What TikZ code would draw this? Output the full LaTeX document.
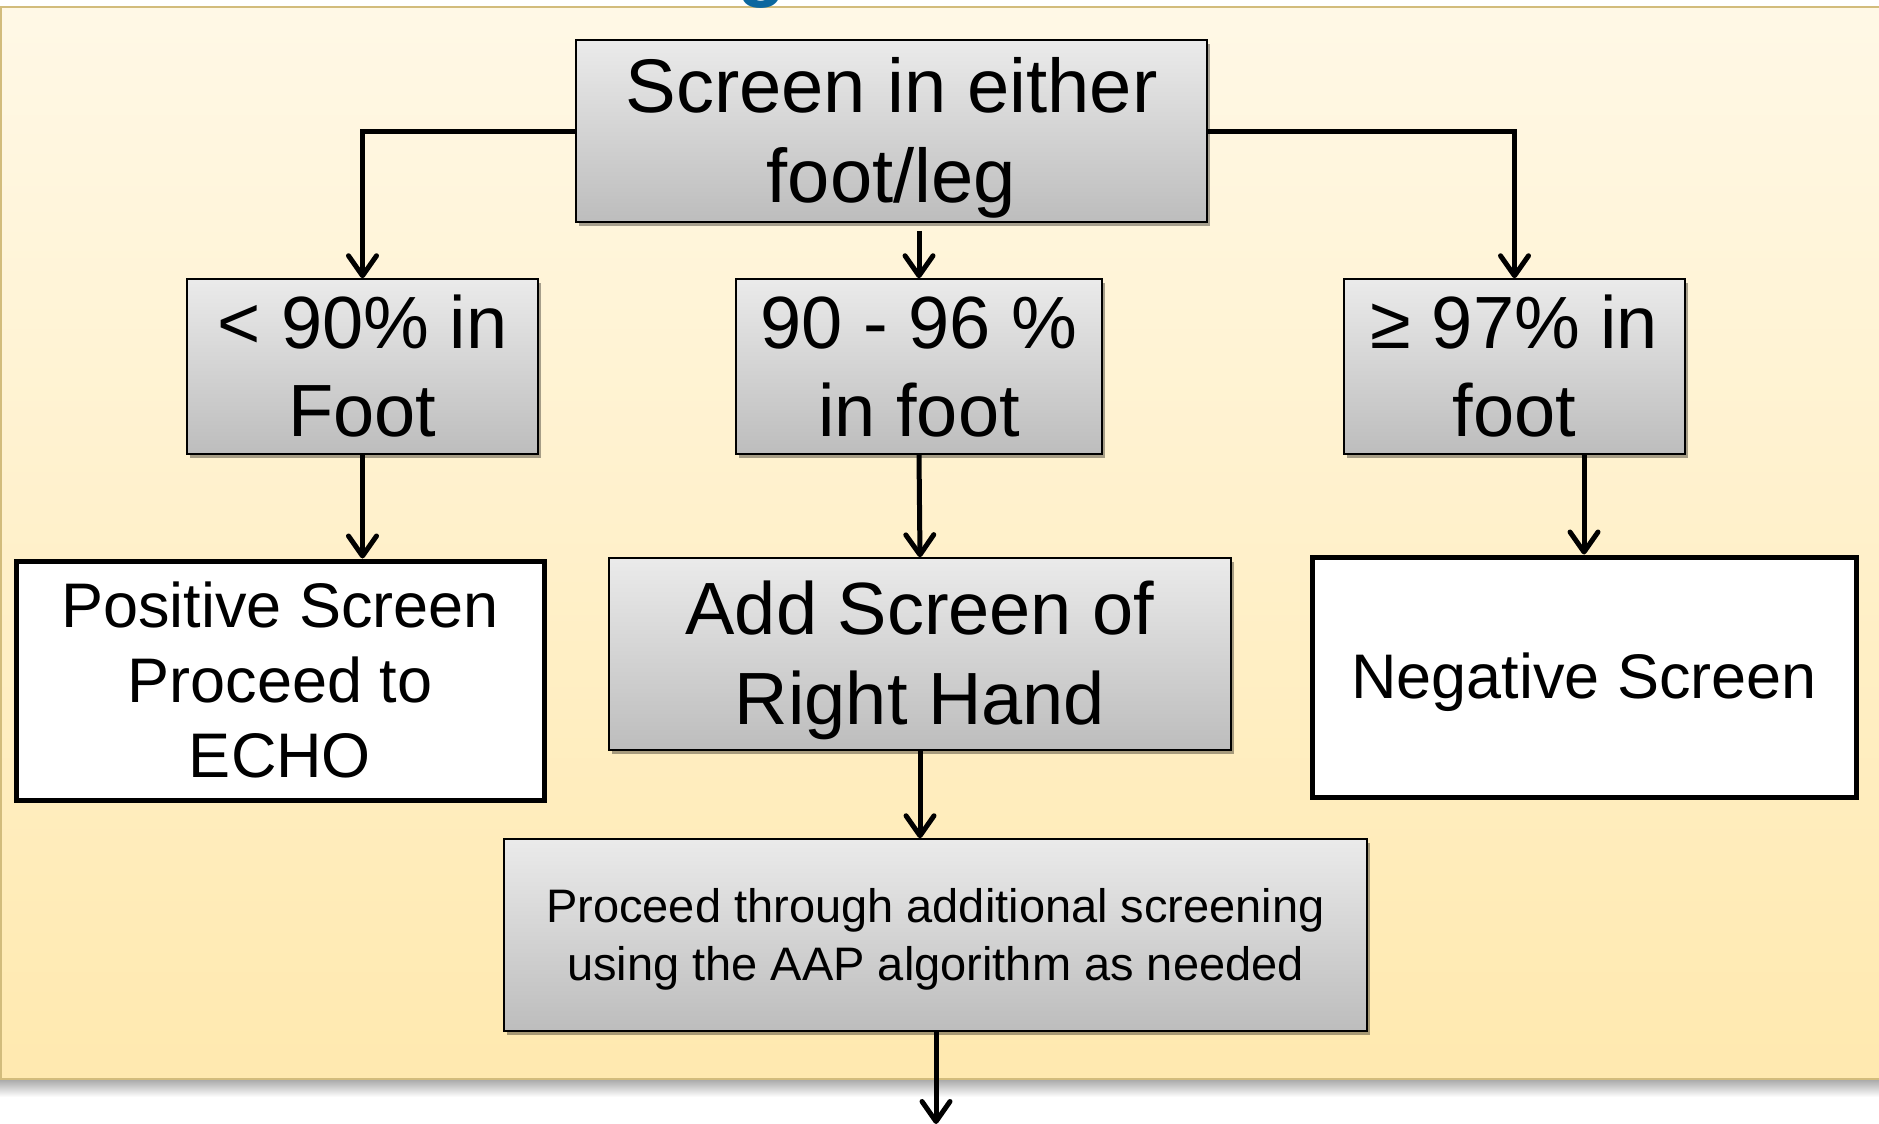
\documentclass[tikz,border=0pt]{standalone}
\usepackage{fontspec}
\setmainfont{Liberation Sans}
\usetikzlibrary{arrows.meta,shadows}
\definecolor{panelTop}{HTML}{FFF8E6}
\definecolor{panelBottom}{HTML}{FFE9AF}
\definecolor{panelEdge}{HTML}{D2BC7C}
\definecolor{titleBlue}{HTML}{0B679F}
% line boxes as in the slide: ascent on the first line, descent on the last
\newcommand\upstrut{\rule{0pt}{.905em}}
\newcommand\downstrut{\rule[-.212em]{0pt}{.212em}}
\tikzset{
  graybox/.style={draw=black, line width=1.5pt, top color=black!8, bottom color=black!26,
    align=center, inner sep=0pt,
    drop shadow={shadow xshift=3pt, shadow yshift=-4pt, opacity=.35, fill=black}},
  whitebox/.style={draw=black, line width=5pt, fill=white, align=center, inner sep=0pt},
  link/.style={line width=5pt, -{Straight Barb[length=20pt, width=28pt, round]}},
}
\begin{document}
\begin{tikzpicture}[x=1pt, y=-1pt]
\useasboundingbox (0,0) rectangle (1879,1124);
% panel
\shade[top color=black!35, bottom color=white] (0,1079) rectangle (1879,1097);
\fill[top color=panelTop, bottom color=panelBottom] (0,7) rectangle (1879,1079);
\draw[panelEdge, line width=2pt] (1879,7) -- (0.5,7) -- (0.5,1079) -- (1879,1079);
\begin{scope}
\clip (0,0) rectangle (1879,10);
\node[text=titleBlue, font=\fontsize{80}{80}\selectfont\bfseries, anchor=base] (T) at (762,-8) {g};
\end{scope}

\node (S) at (891.5,131) [graybox, minimum width=631pt, minimum height=182pt,
  font=\fontsize{76}{90}\selectfont] {\upstrut Screen in either\\foot/leg\downstrut};
\node (A) at (362.5,366.5) [graybox, minimum width=351pt, minimum height=175pt,
  font=\fontsize{74}{88}\selectfont] {\upstrut< 90\% in\\Foot\downstrut};
\node (B) at (919,366.5) [graybox, minimum width=366pt, minimum height=175pt,
  font=\fontsize{74}{88}\selectfont] {\upstrut 90 - 96 \%\\in foot\downstrut};
\node (C) at (1514.5,366.5) [graybox, minimum width=341pt, minimum height=175pt,
  font=\fontsize{74}{88}\selectfont] {\upstrut≥ 97\% in\\foot\downstrut};
\node (D) at (280,680.5) [whitebox, minimum width=528pt, minimum height=239pt,
  font=\fontsize{63}{75}\selectfont] {\upstrut Positive Screen\\Proceed to\\ECHO\downstrut};
\node (E) at (920,654) [graybox, minimum width=622pt, minimum height=192pt,
  font=\fontsize{74}{90}\selectfont] {\upstrut Add Screen of\\Right Hand\downstrut};
\node (F) at (1584,677) [whitebox, minimum width=544pt, minimum height=240pt,
  font=\fontsize{63}{75}\selectfont] {\upstrut Negative Screen\downstrut};
\node (G) at (935.5,935) [graybox, minimum width=863pt, minimum height=192pt,
  font=\fontsize{47}{58}\selectfont] {\upstrut Proceed through additional screening\\using the AAP algorithm as needed\downstrut};
\coordinate (H) at (936,1124);

\draw[link] (S.west) -| (A.north);
\draw[link] (S.east) -| (C.north);
\draw[link] ([yshift=-8pt]S.south -| B.north) -- (B.north);
\draw[link] (A.south) -- (A.south |- D.north);
\draw[link] (B.south) -- (E.north);
\draw[link] (C.south -| F.north) -- (F.north);
\draw[link] (E.south) -- (E.south |- G.north);
\draw[link] (G.south -| H) -- (H);
\end{tikzpicture}
\end{document}
